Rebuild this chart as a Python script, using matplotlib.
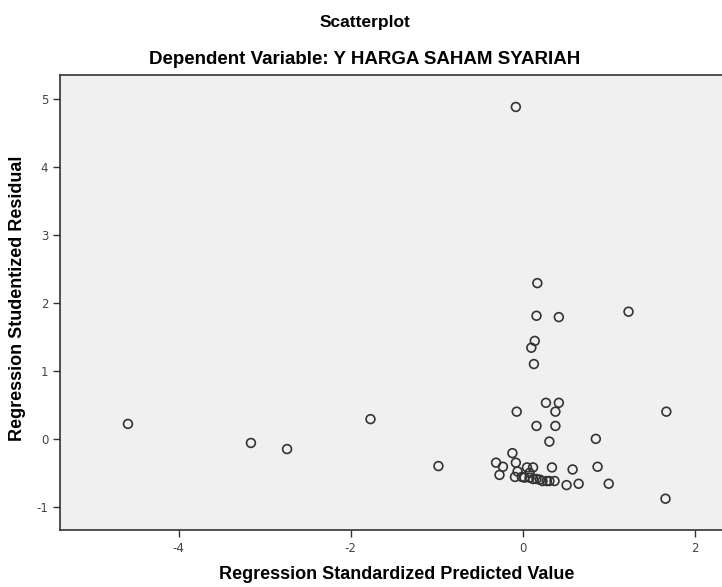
import matplotlib
matplotlib.use('Agg')
import matplotlib.pyplot as plt

# Regression standardized predicted value (x) vs studentized residual (y)
pred = [-4.59, -3.16, -2.74, -1.77, -0.98, -0.08,
        0.17, 0.16, 0.42, 1.23, 0.14, 0.10, 0.13,
        -0.07, 0.27, 0.42, 0.38, 1.67, 0.16, 0.38,
        0.31, 0.85, -0.12, -0.31, -0.23, -0.27, -0.08,
        0.05, 0.12, 0.34, 0.58, 0.87, -0.06, 0.08, -0.09,
        -0.01, 0.02, 0.08, 0.12, 0.16, 0.20, 0.23, 0.28, 0.31, 0.37,
        0.51, 0.65, 1.00, 1.66]
resid = [0.22, -0.06, -0.15, 0.29, -0.40, 4.88,
         2.29, 1.81, 1.79, 1.87, 1.44, 1.34, 1.10,
         0.40, 0.53, 0.53, 0.40, 0.40, 0.19, 0.19,
         -0.04, 0.00, -0.21, -0.35, -0.41, -0.53, -0.35,
         -0.42, -0.42, -0.42, -0.45, -0.41, -0.48, -0.50, -0.56,
         -0.56, -0.57, -0.57, -0.59, -0.59, -0.60, -0.62, -0.62, -0.62, -0.62,
         -0.68, -0.66, -0.66, -0.88]

xticks = [-4, -2, 0, 2]
yticks = [-1, 0, 1, 2, 3, 4, 5]

plt.rcParams['axes.unicode_minus'] = False

fig = plt.figure(figsize=(7.22, 5.87), dpi=100)
ax = fig.add_axes([60 / 722, 1 - 530 / 587, 670 / 722, 455 / 587])
ax.set_facecolor('#f0f0f0')

ax.scatter(pred, resid, s=40, facecolors='none', edgecolors='#333333',
           linewidths=1.2, zorder=3)

ax.set_xlim(-5.38, 2.41)
ax.set_ylim(-1.34, 5.35)
ax.set_xticks(xticks)
ax.set_yticks(yticks)
ax.tick_params('both', direction='out', length=5, width=1, color='#333333',
               labelsize=8.5, labelcolor='#444444')

for side in ['left', 'bottom', 'top']:
    ax.spines[side].set_linewidth(1.2)
    ax.spines[side].set_color('#333333')
ax.spines['right'].set_visible(False)

ax.set_xlabel('Regression Standardized Predicted Value', fontsize=13,
              fontweight='bold', family='Liberation Sans')
ax.set_ylabel('Regression Studentized Residual', fontsize=13,
              fontweight='bold', family='Liberation Sans')
ax.xaxis.set_label_coords(0.503, (530 - 566) / 455)
ax.yaxis.set_label_coords((26 - 60) / 670, 0.51)

fig.text(365 / 722, 1 - 22 / 587, 'Scatterplot',
         ha='center', va='center', fontsize=12.5, fontweight='bold',
         family='Liberation Sans')
fig.text(365 / 722, 1 - 59 / 587,
         'Dependent Variable: Y HARGA SAHAM SYARIAH',
         ha='center', va='center', fontsize=13.5, fontweight='bold',
         family='Liberation Sans')

fig.savefig('out.png', dpi=100)
